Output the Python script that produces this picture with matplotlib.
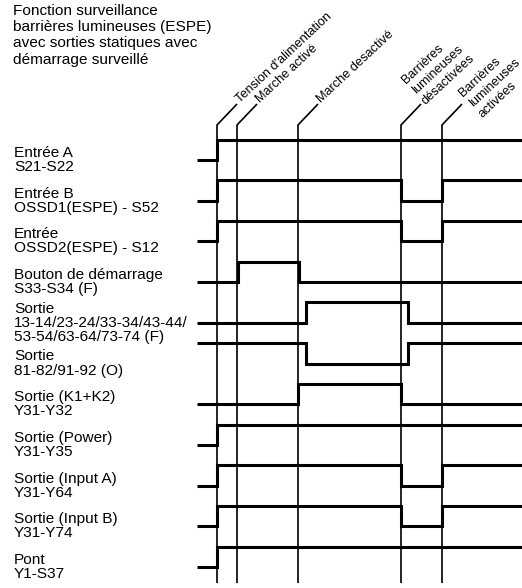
import matplotlib
matplotlib.use("Agg")
import matplotlib.pyplot as plt
import matplotlib.transforms as mtrans

plt.rcParams['font.family'] = ['Liberation Sans', 'DejaVu Sans']

# ---- data ----
title = "Fonction surveillance\nbarrières lumineuses (ESPE)\navec sorties statiques avec\ndémarrage surveillé"

event_times = [2.0, 4.0, 10.1, 20.4, 24.5]
event_labels = ["Tension d'alimentation", "Marche activé", "Marche desactivé",
                "Barrières\nlumineuses\ndésactivées", "Barrières\nlumineuses\nactivées"]

signal_labels = [
    "Entrée A\nS21-S22",
    "Entrée B\nOSSD1(ESPE) - S52",
    "Entrée\nOSSD2(ESPE) - S12",
    "Bouton de démarrage\nS33-S34 (F)",
    "Sortie\n13-14/23-24/33-34/43-44/\n53-54/63-64/73-74 (F)",
    "Sortie\n81-82/91-92 (O)",
    "Sortie (K1+K2)\nY31-Y32",
    "Sortie (Power)\nY31-Y35",
    "Sortie (Input A)\nY31-Y64",
    "Sortie (Input B)\nY31-Y74",
    "Pont\nY1-S37",
]
initial_levels = [0, 0, 0, 0, 0, 1, 0, 0, 0, 0, 0]
transitions = [
    [2.0],
    [2.0, 20.4, 24.5],
    [2.0, 20.4, 24.5],
    [4.1, 10.2],
    [10.9, 21.1],
    [10.9, 21.1],
    [10.1, 20.4],
    [2.0],
    [2.0, 20.4, 24.5],
    [2.0, 20.4, 24.5],
    [2.0],
]
t_start, t_end = 0.0, 32.5

# ---- layout ----
W, H = 522, 588
fig = plt.figure(figsize=(W / 100, H / 100), dpi=100)
ax = fig.add_axes([0, 0, 1, 1])
unit_y = 20.35
ax.set_xlim(-19.7, 32.5)
ax.set_ylim((160 - H) / unit_y, 160 / unit_y)
ax.axis('off')

row_pitch = 2.0
amp = 1.0
lab_x = -18.3
fs = 11.1

# event lines
ev_top = 1.72
ev_bot = -20.79
rot = 43
ev_label_offsets = [(0, 0), (0, 0), (0, 0), (0, 0), (16, -13)]  # px (display)
for t, lab, (ox, oy) in zip(event_times, event_labels, ev_label_offsets):
    ax.plot([t, t, t + 2.0], [ev_bot, ev_top, ev_top + 1.03], color='black', lw=1.2,
            solid_capstyle='butt', solid_joinstyle='miter')
    tr = mtrans.offset_copy(ax.transData, fig=fig, x=ox, y=oy, units='dots')
    ax.text(t + 2.3, ev_top + 1.08, lab, rotation=rot, rotation_mode='anchor',
            ha='left', va='baseline', fontsize=9.2, linespacing=1.25,
            multialignment='left', transform=tr)

# signals
for i, (lab, lvl0, trs) in enumerate(zip(signal_labels, initial_levels, transitions)):
    base = -row_pitch * i
    xs = [t_start]
    ys = [base + amp * lvl0]
    lvl = lvl0
    for t in trs:
        xs.append(t); ys.append(base + amp * lvl)
        lvl = 1 - lvl
        xs.append(t); ys.append(base + amp * lvl)
    xs.append(t_end); ys.append(base + amp * lvl)
    ax.plot(xs, ys, color='black', lw=2.2, solid_joinstyle='miter', solid_capstyle='butt')
    ax.text(lab_x, base, lab, ha='left', va='center', fontsize=fs, linespacing=1.0)

fig.text(13 / W, 1 - 4 / H, title, ha='left', va='top', fontsize=fs, linespacing=1.2)

fig.savefig("out.png", dpi=100)
